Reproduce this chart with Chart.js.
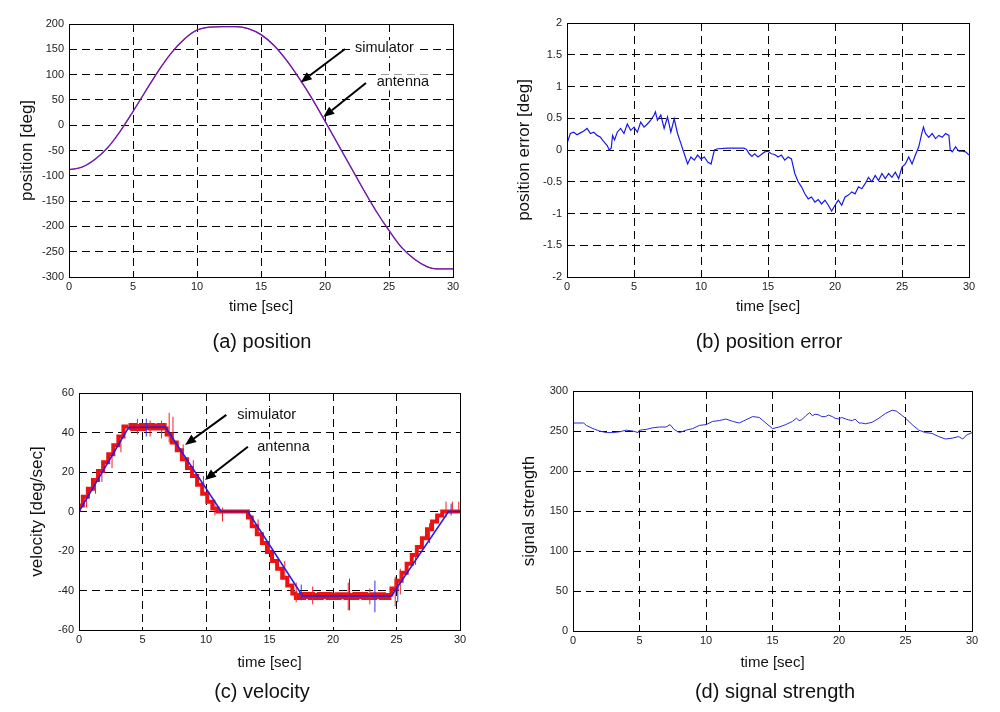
<!DOCTYPE html>
<html>
<head>
<meta charset="utf-8">
<script src="https://cdn.jsdelivr.net/npm/chart.js@4.4.1/dist/chart.umd.min.js"></script>
<style>
body { margin:0; background:#fff; width:1000px; height:712px; position:relative; overflow:hidden; font-family:"Liberation Sans", Arial, sans-serif; }
canvas { position:absolute; }
.cap { position:absolute; font-size:20px; color:#111; transform:translate(-50%,-50%); white-space:nowrap; }
</style>
</head>
<body>
<canvas id="pa" width="490" height="330" style="left:0;top:0"></canvas>
<canvas id="pb" width="510" height="330" style="left:490px;top:0"></canvas>
<canvas id="pc" width="490" height="320" style="left:0;top:360px"></canvas>
<canvas id="pd" width="510" height="320" style="left:490px;top:360px"></canvas>
<div class="cap" style="left:262px;top:341px">(a) position</div>
<div class="cap" style="left:769px;top:341px">(b) position error</div>
<div class="cap" style="left:262px;top:691px">(c) velocity</div>
<div class="cap" style="left:775px;top:691px">(d) signal strength</div>
<script>
// tick labels
const timeTicks = [0, 5, 10, 15, 20, 25, 30];
const posTicks = [-300, -250, -200, -150, -100, -50, 0, 50, 100, 150, 200];
const errTicks = [-2, -1.5, -1, -0.5, 0, 0.5, 1, 1.5, 2];
const velTicks = [-60, -40, -20, 0, 20, 40, 60];
const sigTicks = [0, 50, 100, 150, 200, 250, 300];

// (a) position
const posTime = [0, 1, 2, 3, 4, 5, 6, 7, 8, 9, 10, 11, 12, 13, 14, 15, 16, 17, 18, 19, 20, 21, 22, 23, 24, 25, 26, 27, 28, 28.7, 30];
const posSimulator = [-88, -83, -68, -45, -12, 27, 68, 108, 143, 170, 188, 194, 195, 195, 191, 179, 158, 128, 92, 52, 8, -37, -82, -127, -170, -208, -242, -265, -280, -284, -284];
const posAntenna = [-88, -83, -68, -45, -12, 27, 68, 108, 143, 170, 188, 194, 195, 195, 191, 179, 158, 128, 92, 52, 8, -37, -82, -127, -170, -208, -242, -265, -280, -284, -284];

// (b) position error
const errTime = [0, 0.25, 0.5, 0.75, 1, 1.25, 1.5, 1.75, 2, 2.25, 2.5, 2.75, 3, 3.15, 3.3, 3.4, 3.55, 3.75, 4, 4.25, 4.5, 4.75, 5, 5.25, 5.5, 5.75, 6, 6.25, 6.5, 6.6, 6.75, 7, 7.25, 7.5, 7.75, 8, 8.25, 8.5, 8.75, 9, 9.25, 9.5, 9.75, 10, 10.25, 10.5, 10.75, 11, 11.25, 12, 13.2, 13.4, 13.6, 13.8, 14, 14.25, 14.5, 14.75, 15, 15.25, 15.5, 15.75, 16, 16.25, 16.5, 16.75, 17, 17.25, 17.5, 17.75, 18, 18.25, 18.5, 18.75, 19, 19.25, 19.5, 19.75, 20, 20.25, 20.5, 20.75, 21, 21.25, 21.5, 21.75, 22, 22.25, 22.5, 22.75, 23, 23.25, 23.5, 23.75, 24, 24.25, 24.5, 24.75, 25, 25.25, 25.5, 25.75, 26, 26.25, 26.5, 26.6, 26.75, 27, 27.25, 27.5, 27.75, 28, 28.25, 28.5, 28.6, 28.75, 29, 29.25, 29.5, 29.75, 30];
const errValue = [0.1, 0.26, 0.28, 0.24, 0.27, 0.3, 0.34, 0.26, 0.28, 0.23, 0.2, 0.13, 0.07, 0.0, 0.03, 0.23, 0.16, 0.28, 0.34, 0.26, 0.41, 0.31, 0.36, 0.28, 0.44, 0.36, 0.41, 0.47, 0.55, 0.6, 0.47, 0.55, 0.34, 0.52, 0.28, 0.49, 0.26, 0.1, -0.06, -0.22, -0.11, -0.16, -0.08, -0.14, -0.11, -0.19, -0.22, 0, 0.02, 0.03, 0.03, 0.01, -0.06, -0.1, -0.06, -0.11, -0.07, -0.03, -0.02, -0.06, -0.07, -0.11, -0.08, -0.16, -0.11, -0.14, -0.37, -0.5, -0.58, -0.69, -0.77, -0.74, -0.82, -0.78, -0.85, -0.79, -0.87, -0.96, -0.87, -0.79, -0.87, -0.74, -0.71, -0.66, -0.69, -0.58, -0.61, -0.53, -0.43, -0.5, -0.4, -0.48, -0.37, -0.45, -0.37, -0.43, -0.35, -0.45, -0.27, -0.22, -0.11, -0.22, -0.08, 0.05, 0.28, 0.36, 0.26, 0.2, 0.26, 0.18, 0.23, 0.2, 0.26, 0.23, 0.0, -0.03, 0.05, -0.02, -0.02, -0.03, -0.08];

// (c) velocity
const velSimTime = [0, 0.3, 0.7, 1.1, 1.5, 1.9, 2.3, 2.7, 3.1, 3.5, 3.9, 4.3, 5.0, 5.7, 6.4, 6.9, 7.3, 7.7, 8.1, 8.5, 8.9, 9.3, 9.7, 10.1, 10.5, 10.9, 11.2, 13.3, 13.6, 14.0, 14.4, 14.8, 15.2, 15.6, 16.0, 16.4, 16.8, 17.2, 17.6, 18.3, 19.0, 19.7, 20.4, 21.1, 21.8, 22.5, 23.2, 23.9, 24.6, 25.0, 25.4, 25.8, 26.2, 26.6, 27.0, 27.4, 27.8, 28.2, 28.6, 29.0, 30];
const velSimValue = [0, 3, 7.5, 11.5, 16, 20.5, 25, 29, 33.5, 38, 43, 43, 42.5, 43, 42.8, 43, 39, 35, 31, 26.5, 22, 18, 13.5, 9, 5, 1.5, 0, 0, -3, -7.5, -11.5, -16, -20.5, -25, -29, -33.5, -37.5, -41.5, -43, -42.5, -43, -42.5, -43, -42.6, -43, -42.5, -43, -42.7, -43, -39, -35, -31, -26.5, -22, -18, -13.5, -9, -5, -2, 0, 0];
const velAntTime = [0, 3.9, 6.8, 11.2, 13.3, 17.6, 24.6, 29.1, 30];
const velAntValue = [0, 42.5, 42.8, 0, 0, -42.8, -42.8, 0, 0];
const simSpikeTime = [0.6, 1.3, 1.8, 2.6, 3.3, 4.6, 5.6, 6.5, 7.1, 7.4, 8.2, 9.0, 9.8, 10.7, 11.3, 14.1, 15.0, 16.2, 17.1, 18.4, 21.2, 22.9, 24.9, 25.3, 26.5, 27.6, 28.9, 29.4, 29.9];
const simSpikeLow = [2, 9, 15, 22, 30, 39, 38, 37, 35, 36, 26, 18, 10, -2, -5, -12, -21, -34, -46, -47, -50, -47, -48, -42, -27, -16, -3, 0, 0];
const simSpikeHigh = [10, 17, 22, 30, 37, 47, 46, 46, 50, 48, 34, 26, 18, 6, 2, -4, -13, -25, -36, -38, -36, -39, -33, -29, -17, -6, 5, 5, 5];
const antSpikeTime = [5.3, 17.5, 21.3, 23.3, 25.1, 29.3];
const antSpikeLow = [38, -45, -50, -51, -46, -2];
const antSpikeHigh = [47, -37, -34, -35, -36, 4];

// (d) signal strength
const sigTime = [0, 0.8, 1, 1.5, 2, 2.5, 3, 3.5, 4, 4.5, 4.9, 5, 5.5, 6, 6.5, 7, 7.3, 7.6, 8, 8.5, 9, 9.5, 10, 10.5, 11, 11.5, 12, 12.5, 13, 13.5, 14, 14.5, 15, 15.5, 16, 16.5, 16.8, 17, 17.2, 17.5, 17.8, 18, 18.2, 18.5, 18.7, 19, 19.2, 19.5, 19.7, 20, 20.2, 20.5, 20.7, 21, 21.2, 21.5, 21.7, 22, 22.5, 23, 23.5, 24, 24.3, 24.7, 25, 25.5, 26, 26.5, 27, 27.5, 28, 28.5, 29, 29.3, 29.6, 30];
const sigValue = [260, 260, 257, 253, 250, 248, 248, 249, 251, 250, 248, 251, 252, 254, 255, 255, 258, 252, 248, 251, 253, 257, 258, 262, 263, 265, 262, 260, 264, 268, 267, 260, 253, 255, 258, 262, 266, 263, 264, 269, 273, 269, 271, 270, 268, 268, 270, 268, 266, 265, 267, 265, 264, 263, 265, 260, 260, 259, 261, 266, 272, 276, 275, 270, 266, 258, 251, 248, 247, 243, 240, 241, 243, 240, 245, 248];

// arrow notes (data units)
const posNotes = [
    { text: 'simulator', x: 22.34, y: 152, from: [21.56, 150.6], to: [18.1, 84.6] },
    { text: 'antenna', x: 24.04, y: 84.6, from: [23.2, 83.4], to: [19.87, 16] }
];
const velNotes = [
    { text: 'simulator', x: 12.47, y: 48.9, from: [11.6, 48.9], to: [8.35, 33.7] },
    { text: 'antenna', x: 14.04, y: 32.5, from: [13.3, 32.8], to: [9.92, 16] }
];

function pts(xs, ys) {
    return xs.map((x, i) => ({ x: x, y: ys[i] }));
}

function spikes(xs, lo, hi) {
    const out = [];
    xs.forEach((x, i) => {
        out.push({ x: x, y: lo[i] }, { x: x, y: hi[i] }, { x: x, y: null });
    });
    return out;
}

// solid box round the plot area
const frame = {
    id: 'frame',
    afterDatasetsDraw(chart) {
        const { ctx, chartArea: a } = chart;
        ctx.save();
        ctx.strokeStyle = '#000';
        ctx.lineWidth = 1;
        ctx.strokeRect(Math.round(a.left) + 0.5, Math.round(a.top) + 0.5, Math.round(a.right - a.left), Math.round(a.bottom - a.top));
        ctx.restore();
    }
};

function arrows(notes) {
    return {
        id: 'arrows',
        afterDraw(chart) {
            const ctx = chart.ctx;
            const sx = chart.scales.x, sy = chart.scales.y;
            ctx.save();
            notes.forEach(n => {
                ctx.font = '14.5px "Liberation Sans", Arial, sans-serif';
                const tx = sx.getPixelForValue(n.x), ty = sy.getPixelForValue(n.y);
                const w = ctx.measureText(n.text).width;
                ctx.fillStyle = '#fff';
                ctx.fillRect(tx - 1, ty - 8, w + 2, 16);
                ctx.fillStyle = '#111';
                ctx.textAlign = 'left';
                ctx.textBaseline = 'middle';
                ctx.fillText(n.text, tx, ty);
                const x0 = sx.getPixelForValue(n.from[0]), y0 = sy.getPixelForValue(n.from[1]);
                const x1 = sx.getPixelForValue(n.to[0]), y1 = sy.getPixelForValue(n.to[1]);
                const ang = Math.atan2(y1 - y0, x1 - x0);
                const hl = 11, hw = 4.5;
                const bx = x1 - hl * Math.cos(ang), by = y1 - hl * Math.sin(ang);
                ctx.strokeStyle = '#000';
                ctx.lineWidth = 2;
                ctx.beginPath();
                ctx.moveTo(x0, y0);
                ctx.lineTo(bx, by);
                ctx.stroke();
                ctx.fillStyle = '#000';
                ctx.beginPath();
                ctx.moveTo(x1, y1);
                ctx.lineTo(bx + hw * Math.sin(ang), by - hw * Math.cos(ang));
                ctx.lineTo(bx - hw * Math.sin(ang), by + hw * Math.cos(ang));
                ctx.closePath();
                ctx.fill();
            });
            ctx.restore();
        }
    };
}

const tickFont = { family: '"Liberation Sans", Arial, sans-serif', size: 11 };

function makePanel(id, box, yTitle, yTicks, datasets, notes) {
    const cv = document.getElementById(id);
    const w = cv.width, h = cv.height;
    const plugins = [frame];
    if (notes) plugins.push(arrows(notes));
    return new Chart(cv, {
        type: 'line',
        data: { datasets: datasets },
        options: {
            responsive: false,
            animation: false,
            layout: { padding: { left: 0, top: box.t, right: w - box.r, bottom: 0 } },
            plugins: { legend: { display: false }, tooltip: { enabled: false } },
            elements: { point: { radius: 0 } },
            scales: {
                x: {
                    type: 'linear',
                    min: timeTicks[0],
                    max: timeTicks[timeTicks.length - 1],
                    afterBuildTicks: s => { s.ticks = timeTicks.map(v => ({ value: v })); },
                    afterFit: s => { s.height = h - box.b; },
                    grid: { color: '#000', lineWidth: 1, drawTicks: false },
                    border: { display: false, dash: [8, 5] },
                    ticks: { font: tickFont, color: '#222', padding: 3, maxRotation: 0, callback: v => String(v) },
                    title: {
                        display: true, text: 'time [sec]', color: '#111',
                        font: { family: '"Liberation Sans", Arial, sans-serif', size: 15 },
                        padding: { top: 0, bottom: h - box.xt - 9 }
                    }
                },
                y: {
                    type: 'linear',
                    min: yTicks[0],
                    max: yTicks[yTicks.length - 1],
                    afterBuildTicks: s => { s.ticks = yTicks.map(v => ({ value: v })); },
                    afterFit: s => { s.width = box.l; },
                    grid: { color: '#000', lineWidth: 1, drawTicks: false },
                    border: { display: false, dash: [8, 5] },
                    ticks: { font: tickFont, color: '#222', padding: 5, callback: v => String(v) },
                    title: {
                        display: true, text: yTitle, color: '#111',
                        font: { family: '"Liberation Sans", Arial, sans-serif', size: 17 },
                        padding: { top: box.yt - 10.2, bottom: 0 }
                    }
                }
            }
        },
        plugins: plugins
    });
}

makePanel('pa', { l: 69, t: 24, r: 453, b: 277, xt: 307, yt: 27.7 }, 'position [deg]', posTicks, [
    { label: 'simulator', data: pts(posTime, posSimulator), borderColor: '#ff0000', borderWidth: 1.2, cubicInterpolationMode: 'monotone', order: 2 },
    { label: 'antenna', data: pts(posTime, posAntenna), borderColor: 'rgba(40,40,255,0.72)', borderWidth: 1.3, cubicInterpolationMode: 'monotone', order: 1 }
], posNotes);

makePanel('pb', { l: 77, t: 23, r: 479, b: 277, xt: 307, yt: 34 }, 'position error [deg]', errTicks, [
    { label: 'error', data: pts(errTime, errValue), borderColor: '#1a1ae6', borderWidth: 1.2 }
]);

makePanel('pc', { l: 79, t: 33, r: 460, b: 270, xt: 303, yt: 37.5 }, 'velocity [deg/sec]', velTicks, [
    {
        label: 'simulator', data: pts(velSimTime, velSimValue), borderColor: '#ee1111', borderWidth: 4, stepped: 'after', order: 4,
        segment: { borderWidth: c => (Math.abs(c.p0.parsed.y) > 41 && Math.abs(c.p1.parsed.y) > 41) ? 7 : 4 }
    },
    { label: 'simulator spikes', data: spikes(simSpikeTime, simSpikeLow, simSpikeHigh), borderColor: '#ee2222', borderWidth: 1, spanGaps: false, order: 3 },
    { label: 'antenna', data: pts(velAntTime, velAntValue), borderColor: '#2020ee', borderWidth: 1.6, order: 2 },
    { label: 'antenna spikes', data: spikes(antSpikeTime, antSpikeLow, antSpikeHigh), borderColor: '#3030ee', borderWidth: 1, spanGaps: false, order: 1 }
], velNotes);

makePanel('pd', { l: 83, t: 31, r: 482, b: 271, xt: 303, yt: 39 }, 'signal strength', sigTicks, [
    { label: 'signal', data: pts(sigTime, sigValue), borderColor: '#2b2bd6', borderWidth: 1 }
]);
</script>
</body>
</html>
